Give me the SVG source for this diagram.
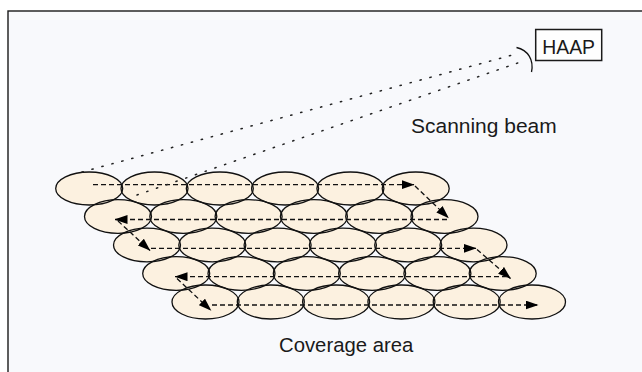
<svg xmlns="http://www.w3.org/2000/svg" width="642" height="372" viewBox="0 0 642 372">
<style>
.frame{fill:#f8f9fc;stroke:#1a1a1a;stroke-width:1.4}
.cellfill{fill:#fcf1e0;stroke:none}
.celloutline{fill:none;stroke:#111;stroke-width:1.3}
.path{fill:none;stroke:#111;stroke-width:1.3;stroke-dasharray:5 3}
.beam{fill:none;stroke:#222;stroke-width:1.5;stroke-dasharray:1.3 9;stroke-linecap:round}
.lbl{font-family:"Liberation Sans",Arial,sans-serif;font-size:20.5px;fill:#1a1a1a}
</style>
<defs>
<marker id="ah" viewBox="0 0 13 9" refX="12.5" refY="4.5" markerWidth="13" markerHeight="9" markerUnits="userSpaceOnUse" orient="auto">
<path d="M0,0 L13,4.5 L0,9 z" fill="#000"/>
</marker>
<g id="cells">
<ellipse cx="89.2" cy="188.5" rx="33.5" ry="16.5"/>
<ellipse cx="154.5" cy="188.5" rx="33.5" ry="16.5"/>
<ellipse cx="219.8" cy="188.5" rx="33.5" ry="16.5"/>
<ellipse cx="285.1" cy="188.5" rx="33.5" ry="16.5"/>
<ellipse cx="350.4" cy="188.5" rx="33.5" ry="16.5"/>
<ellipse cx="415.7" cy="188.5" rx="33.5" ry="16.5"/>
<ellipse cx="118" cy="216.5" rx="33.5" ry="16.8"/>
<ellipse cx="183.3" cy="216.5" rx="33.5" ry="16.8"/>
<ellipse cx="248.6" cy="216.5" rx="33.5" ry="16.8"/>
<ellipse cx="313.9" cy="216.5" rx="33.5" ry="16.8"/>
<ellipse cx="379.2" cy="216.5" rx="33.5" ry="16.8"/>
<ellipse cx="444.5" cy="216.5" rx="33.5" ry="16.8"/>
<ellipse cx="147" cy="245" rx="33.5" ry="16.8"/>
<ellipse cx="212.3" cy="245" rx="33.5" ry="16.8"/>
<ellipse cx="277.6" cy="245" rx="33.5" ry="16.8"/>
<ellipse cx="342.9" cy="245" rx="33.5" ry="16.8"/>
<ellipse cx="408.2" cy="245" rx="33.5" ry="16.8"/>
<ellipse cx="473.5" cy="245" rx="33.5" ry="16.8"/>
<ellipse cx="176.2" cy="273.5" rx="33.5" ry="16.8"/>
<ellipse cx="241.5" cy="273.5" rx="33.5" ry="16.8"/>
<ellipse cx="306.8" cy="273.5" rx="33.5" ry="16.8"/>
<ellipse cx="372.1" cy="273.5" rx="33.5" ry="16.8"/>
<ellipse cx="437.4" cy="273.5" rx="33.5" ry="16.8"/>
<ellipse cx="502.7" cy="273.5" rx="33.5" ry="16.8"/>
<ellipse cx="205.5" cy="302" rx="33.5" ry="17"/>
<ellipse cx="270.8" cy="302" rx="33.5" ry="17"/>
<ellipse cx="336.1" cy="302" rx="33.5" ry="17"/>
<ellipse cx="401.4" cy="302" rx="33.5" ry="17"/>
<ellipse cx="466.7" cy="302" rx="33.5" ry="17"/>
<ellipse cx="532" cy="302" rx="33.5" ry="17"/>
</g>
</defs>
<rect class="frame" x="8" y="11" width="650" height="380"/>
<g id="coverage-area">
<use href="#cells" class="cellfill"/>
<use href="#cells" class="celloutline"/>
</g>
<g id="scan-path">
<path class="path" d="M93,184.7 H414" marker-end="url(#ah)"/>
<path class="path" d="M415,186 L448.5,218" marker-end="url(#ah)"/>
<path class="path" d="M447,219.5 H115" marker-end="url(#ah)"/>
<path class="path" d="M118,221 L150,250.5" marker-end="url(#ah)"/>
<path class="path" d="M151,248.3 H476" marker-end="url(#ah)"/>
<path class="path" d="M477,249.5 L510.5,278.5" marker-end="url(#ah)"/>
<path class="path" d="M507,276.7 H175" marker-end="url(#ah)"/>
<path class="path" d="M177,278.5 L211,310.5" marker-end="url(#ah)"/>
<path class="path" d="M212,305 H538" marker-end="url(#ah)"/>
</g>
<g id="beam">
<path class="beam" d="M82,172 L518,53.5"/>
<path class="beam" d="M137,195 L522,61.5"/>
<path d="M516.5,47.5 C528,50 534,60 531.5,72" fill="none" stroke="#111" stroke-width="1.3"/>
</g>
<g id="haap">
<rect x="535.7" y="29.5" width="66" height="31" fill="#fefefe" stroke="#1a1a1a" stroke-width="1.5"/>
<text class="lbl" x="542.3" y="54.3" textLength="52.7" lengthAdjust="spacingAndGlyphs">HAAP</text>
</g>
<text class="lbl" x="411" y="132.7" textLength="145.7" lengthAdjust="spacingAndGlyphs">Scanning beam</text>
<text class="lbl" x="279" y="351.7" textLength="134.3" lengthAdjust="spacingAndGlyphs">Coverage area</text>
</svg>
